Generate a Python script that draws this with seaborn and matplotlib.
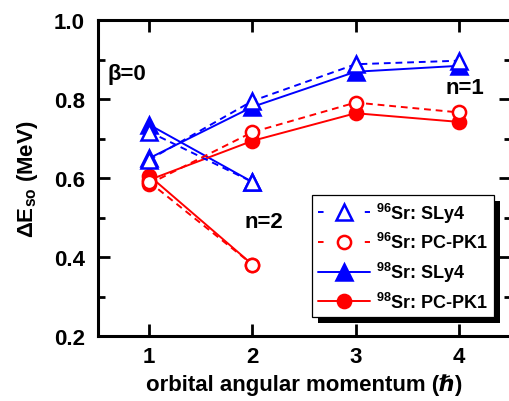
import numpy as np
import pandas as pd
import matplotlib
matplotlib.use("Agg")
import matplotlib.pyplot as plt
import seaborn as sns
from matplotlib.lines import Line2D
from matplotlib.patches import Rectangle
from matplotlib.transforms import IdentityTransform
from matplotlib.ticker import MultipleLocator, FormatStrFormatter

# ---------------- data ----------------
l_n1 = [1, 2, 3, 4]
l_n2 = [1, 2]
sly4_96_n1 = [0.646, 0.795, 0.888, 0.897]
sly4_96_n2 = [0.717, 0.590]
pcpk1_96_n1 = [0.585, 0.716, 0.791, 0.766]
pcpk1_96_n2 = [0.590, 0.381]
sly4_98_n1 = [0.650, 0.780, 0.869, 0.884]
sly4_98_n2 = [0.735, 0.590]
pcpk1_98_n1 = [0.595, 0.694, 0.764, 0.742]
pcpk1_98_n2 = [0.606, 0.381]

series_names = ["$^{\\mathbf{96}}$Sr: SLy4", "$^{\\mathbf{96}}$Sr: PC-PK1",
                "$^{\\mathbf{98}}$Sr: SLy4", "$^{\\mathbf{98}}$Sr: PC-PK1"]
series_keys = ["96SLy4", "96PCPK1", "98SLy4", "98PCPK1"]
values = {
    ("96SLy4", 1): sly4_96_n1, ("96SLy4", 2): sly4_96_n2,
    ("96PCPK1", 1): pcpk1_96_n1, ("96PCPK1", 2): pcpk1_96_n2,
    ("98SLy4", 1): sly4_98_n1, ("98SLy4", 2): sly4_98_n2,
    ("98PCPK1", 1): pcpk1_98_n1, ("98PCPK1", 2): pcpk1_98_n2,
}
rows = []
for (key, n), vals in values.items():
    ls = l_n1 if n == 1 else l_n2
    for l, v in zip(ls, vals):
        rows.append({"series": key, "n": n, "l": l, "dE": v})
df = pd.DataFrame(rows)

# ---------------- style ----------------
sns.set_style("ticks")
plt.rcParams["font.family"] = ["Liberation Sans", "DejaVu Sans"]
plt.rcParams["font.weight"] = "bold"
plt.rcParams["text.color"] = "black"
plt.rcParams["axes.labelcolor"] = "black"
plt.rcParams["xtick.color"] = "black"
plt.rcParams["ytick.color"] = "black"
plt.rcParams["mathtext.fontset"] = "custom"
plt.rcParams["mathtext.rm"] = "Liberation Sans:bold"
plt.rcParams["mathtext.bf"] = "Liberation Sans:bold"
plt.rcParams["mathtext.it"] = "Liberation Sans:italic:bold"

BLUE = "#0000FF"
RED = "#FF0000"
DASH = (0, (3.5, 2.5))
styles = {
    "96SLy4": dict(color=BLUE, ls=DASH, marker="^", mfc="white", ms=11),
    "96PCPK1": dict(color=RED, ls=DASH, marker="o", mfc="white", ms=9.5),
    "98SLy4": dict(color=BLUE, ls="-", marker="^", mfc=BLUE, ms=11),
    "98PCPK1": dict(color=RED, ls="-", marker="o", mfc=RED, ms=9.5),
}

fig = plt.figure(figsize=(5.09, 4.02), dpi=100)
ax = fig.add_axes([97.5 / 509, 1 - 337 / 402, 413 / 509, 316 / 402])

# draw 98Sr first so the 96Sr open markers lie on top
for key in ["98SLy4", "98PCPK1", "96SLy4", "96PCPK1"]:
    st = styles[key]
    for n in [1, 2]:
        sub = df[(df.series == key) & (df.n == n)]
        sns.lineplot(data=sub, x="l", y="dE", ax=ax, color=st["color"],
                     linestyle=st["ls"], linewidth=1.4, marker=st["marker"],
                     markersize=st["ms"], markerfacecolor=st["mfc"],
                     markeredgecolor=st["color"], markeredgewidth=1.8,
                     legend=False, estimator=None)

ax.set_xlim(0.5, 4.5)
ax.set_ylim(0.2, 1.0)
ax.set_xticks([1, 2, 3, 4])
ax.yaxis.set_major_locator(MultipleLocator(0.2))
ax.yaxis.set_minor_locator(MultipleLocator(0.1))
ax.yaxis.set_major_formatter(FormatStrFormatter("%.1f"))

for sp in ax.spines.values():
    sp.set_linewidth(2.2)
    sp.set_visible(True)
    sp.set_color("black")
ax.tick_params(axis="both", which="major", direction="in", length=8.5, width=2.0,
               top=True, right=True, labelsize=16, color="black", labelcolor="black")
ax.tick_params(axis="y", which="minor", direction="in", length=5, width=2.0,
               left=True, right=True, color="black")
ax.tick_params(axis="x", which="major", pad=7)
ax.tick_params(axis="y", which="major", pad=9)

ax.set_xlabel("orbital angular momentum (ℏ)", fontsize=16, fontweight="bold",
              labelpad=5, color="black")
ax.set_ylabel("ΔE$_{\\mathbf{so}}$ (MeV)", fontsize=16, fontweight="bold",
              labelpad=10, color="black")

ax.text(0.60, 0.865, "β=0", fontsize=16, fontweight="bold", va="center", ha="left")
ax.text(4.06, 0.83, "n=1", fontsize=16, fontweight="bold", va="center", ha="center")
ax.text(2.11, 0.491, "n=2", fontsize=16, fontweight="bold", va="center", ha="center")

LEG_FS = 13
HL = 2.9
L = HL * LEG_FS
lw = 1.4
leg_dash = (0, (4.0 / lw, (L - 8.0) / lw))
handles = []
for key in series_keys:
    st = styles[key]
    ls = leg_dash if st["ls"] != "-" else "-"
    handles.append(Line2D([], [], color=st["color"], linestyle=ls, linewidth=lw,
                          marker=st["marker"], markersize=st["ms"],
                          markerfacecolor=st["mfc"], markeredgecolor=st["color"],
                          markeredgewidth=1.8))
leg = ax.legend(handles, series_names, loc="lower right",
                bbox_to_anchor=((494 - 97.5) / 413, (337 - 318) / 316),
                borderaxespad=0, handlelength=HL, handletextpad=0.35,
                labelspacing=0.42, borderpad=0.3, frameon=True, fancybox=False,
                prop={"weight": "bold", "size": LEG_FS})
leg.get_frame().set_edgecolor("black")
leg.get_frame().set_linewidth(0.9)
leg.get_frame().set_alpha(1)
leg.set_zorder(10)

fig.canvas.draw()
bb = leg.get_window_extent(fig.canvas.get_renderer())
shadow = Rectangle((bb.x0 + 6, bb.y0 - 6), bb.width, bb.height,
                   transform=IdentityTransform(), facecolor="black",
                   edgecolor="none", zorder=9, clip_on=False)
ax.add_artist(shadow)

fig.savefig("out.png", dpi=100)
